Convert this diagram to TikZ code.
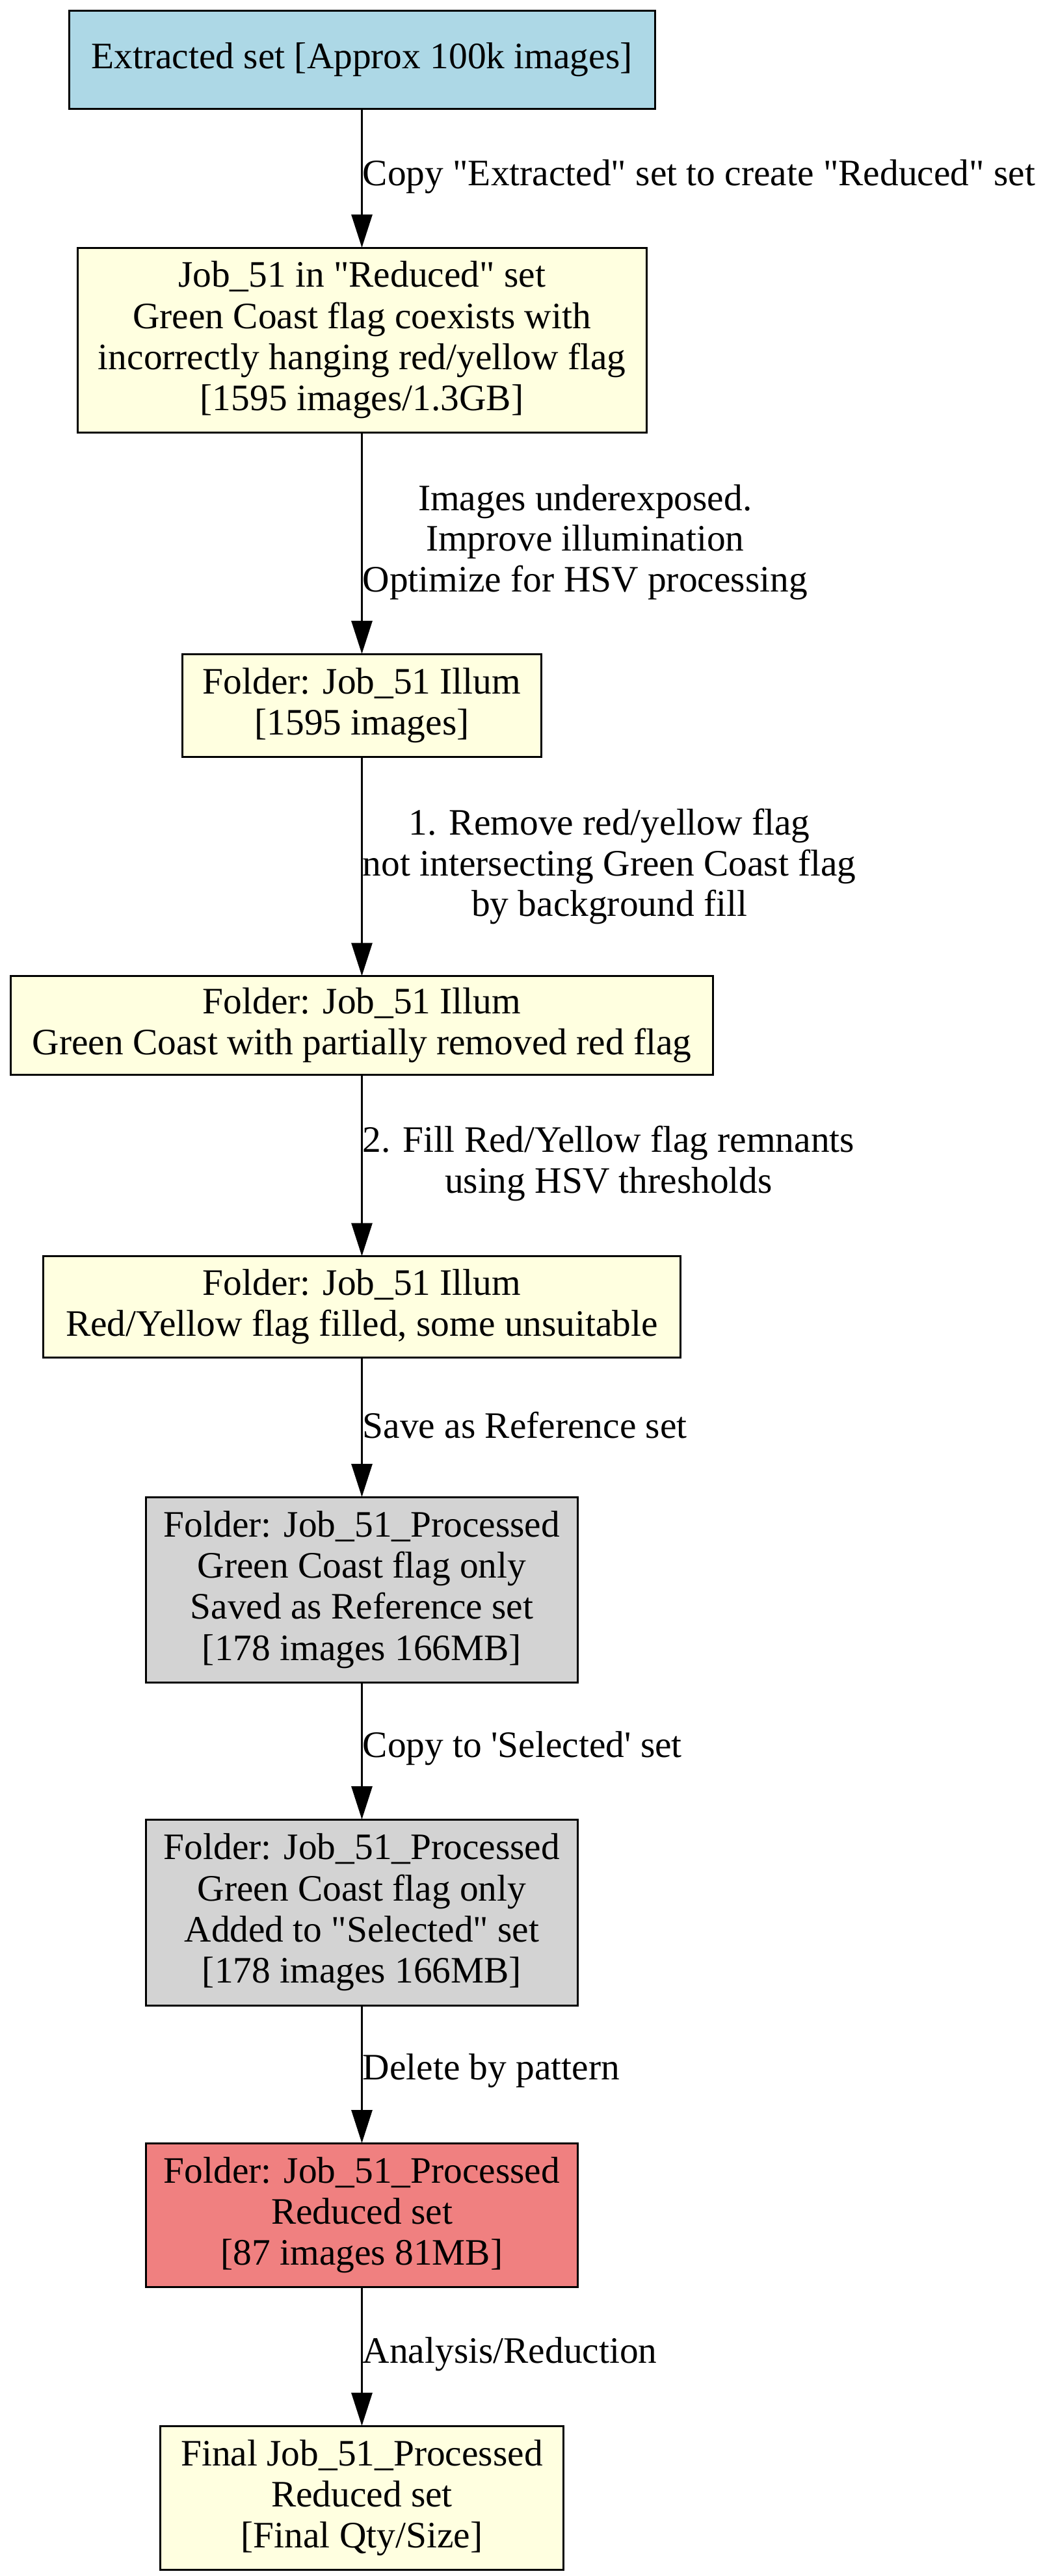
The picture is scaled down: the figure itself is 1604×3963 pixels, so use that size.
\documentclass[tikz,border=0pt]{standalone}
\usepackage{fontspec}
\setmainfont{Liberation Serif}[Ligatures=TeXOff]
\usetikzlibrary{arrows.meta}
\definecolor{cblue}{HTML}{ADD8E6}
\definecolor{cyellow}{HTML}{FFFFE0}
\definecolor{cgray}{HTML}{D3D3D3}
\definecolor{cred}{HTML}{F08080}
\tikzset{
  box/.style={draw=black, line width=0.75pt, rectangle, inner sep=0pt, outer sep=0pt, align=center,
    font=\fontsize{14.35}{15.8}\selectfont},
  lab/.style={anchor=west, inner sep=0pt, align=center, font=\fontsize{14.35}{15.6}\selectfont},
  arr/.style={line width=0.75pt, -{Triangle[length=12.75pt, width=8pt]}}
}
\begin{document}
\begin{tikzpicture}[x=0.25pt, y=-0.25pt]
\useasboundingbox (0,0) rectangle (1604,3963);
\node[box, fill=cblue, minimum width=225.25pt, minimum height=37.75pt] (n1) at (556.5,91.5) {Extracted set [Approx 100k images]};
\node[box, fill=cyellow, minimum width=218.75pt, minimum height=71pt] (n2) at (556.5,523) {Job\_51 in "Reduced" set\\Green Coast flag coexists with\\incorrectly hanging red/yellow flag\\{}[1595 images/1.3GB]};
\node[box, fill=cyellow, minimum width=138pt, minimum height=39.5pt] (n3) at (556.5,1085) {Folder: Job\_51 Illum\\{}[1595 images]};
\node[box, fill=cyellow, minimum width=270pt, minimum height=38pt] (n4) at (556.5,1577.5) {Folder: Job\_51 Illum\\Green Coast with partially removed red flag};
\node[box, fill=cyellow, minimum width=245pt, minimum height=39pt] (n5) at (556.5,2010.5) {Folder: Job\_51 Illum\\Red/Yellow flag filled, some unsuitable};
\node[box, fill=cgray, minimum width=166pt, minimum height=71.25pt] (n6) at (556.5,2445.5) {Folder: Job\_51\_Processed\\Green Coast flag only\\Saved as Reference set\\{}[178 images 166MB]};
\node[box, fill=cgray, minimum width=166pt, minimum height=71.5pt] (n7) at (556.5,2942) {Folder: Job\_51\_Processed\\Green Coast flag only\\Added to "Selected" set\\{}[178 images 166MB]};
\node[box, fill=cred, minimum width=166pt, minimum height=55.25pt] (n8) at (556.5,3407.5) {Folder: Job\_51\_Processed\\Reduced set\\{}[87 images 81MB]};
\node[box, fill=cyellow, minimum width=155pt, minimum height=55.25pt] (n9) at (556.5,3842.5) {Final Job\_51\_Processed\\Reduced set\\{}[Final Qty/Size]};
\node[lab] (l1) at (557,272) {Copy "Extracted" set to create "Reduced" set};
\node[lab] (l2) at (557,834) {Images underexposed.\\Improve illumination\\Optimize for HSV processing};
\node[lab] (l3) at (557,1333) {1. Remove red/yellow flag\\not intersecting Green Coast flag\\by background fill};
\node[lab] (l4) at (557,1790) {2. Fill Red/Yellow flag remnants\\using HSV thresholds};
\node[lab] (l5) at (557,2193) {Save as Reference set};
\node[lab] (l6) at (557,2690) {Copy to 'Selected' set};
\node[lab] (l7) at (557,3186) {Delete by pattern};
\node[lab] (l8) at (557,3622) {Analysis/Reduction};
\draw[arr] (n1) -- (n2);
\draw[arr] (n2) -- (n3);
\draw[arr] (n3) -- (n4);
\draw[arr] (n4) -- (n5);
\draw[arr] (n5) -- (n6);
\draw[arr] (n6) -- (n7);
\draw[arr] (n7) -- (n8);
\draw[arr] (n8) -- (n9);
\end{tikzpicture}
\end{document}
